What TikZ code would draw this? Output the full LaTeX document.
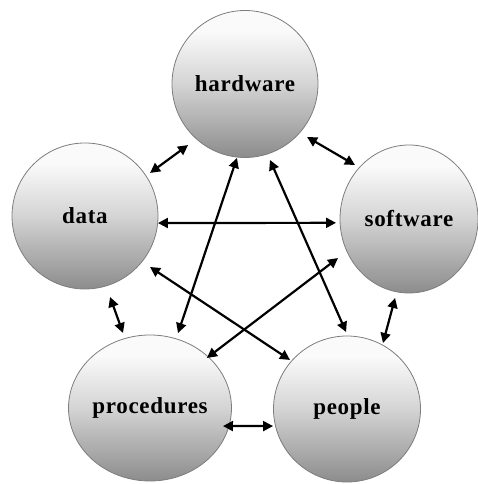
\documentclass[tikz,border=0pt]{standalone}
\usepackage{fontspec}
\setmainfont{Liberation Serif}[LetterSpace=3]
\usetikzlibrary{calc,arrows.meta,shapes.geometric}
\definecolor{shbot}{RGB}{140,140,140}
\definecolor{shmid}{RGB}{212,212,212}
\definecolor{shtop}{RGB}{250,250,250}
\definecolor{rim}{RGB}{125,125,125}
\pgfdeclareverticalshading{ballshade}{100bp}{color(0bp)=(shbot); color(25bp)=(shbot); color(50bp)=(shmid); color(68bp)=(shtop); color(75bp)=(shtop); color(100bp)=(shtop)}
\begin{document}
\begin{tikzpicture}[x=1pt,y=1pt,
  ball/.style={ellipse, inner sep=0pt, draw=rim, line width=0.8pt,
    shading=ballshade,
    font=\fontsize{23}{26}\selectfont\bfseries, text=black},
  arr/.style={line width=2.2pt, {Triangle[length=10pt,width=10pt]}-{Triangle[length=10pt,width=10pt]}}]
\useasboundingbox (0,0) rectangle (478,484);
\node[ball, minimum width=146pt, minimum height=147pt] (hw) at (245,400) {hardware};
\node[ball, minimum width=146pt, minimum height=146pt] (data) at (85,268) {data};
\node[ball, minimum width=138pt, minimum height=148pt] (sw) at (409,265) {software};
\node[ball, minimum width=146pt, minimum height=146pt] (proc) at (150,76) {procedures};
\node[ball, minimum width=147pt, minimum height=146pt] (ppl) at (347,75) {people};
\draw[arr] ($(hw)+(227:83.5)$) -- ($(data)+(33.5:78)$);
\draw[arr] ($(hw)+(319.5:81.6)$) -- ($(sw)+(135:76.4)$);
\draw[arr] ($(data)+(-5.5:73.3)$) -- ($(sw)+(183:73.1)$);
\draw[arr] ($(hw)+(263.8:74.4)$) -- ($(proc)+(69.5:80)$);
\draw[arr] ($(hw)+(288.2:80)$) -- ($(ppl)+(90.7:77)$);
\draw[arr] ($(data)+(321.9:82.6)$) -- ($(ppl)+(139.3:75.2)$);
\draw[arr] ($(sw)+(208.8:81)$) -- ($(proc)+(41.3:75.8)$);
\draw[arr] ($(sw)+(260:80.2)$) -- ($(ppl)+(61.4:75.2)$);
\draw[arr] ($(data)+(287.2:84.8)$) -- ($(proc)+(109.8:79.7)$);
\draw[arr] ($(proc)+(-13.9:75.2)$) -- ($(ppl)+(193:75.9)$);
\end{tikzpicture}
\end{document}
